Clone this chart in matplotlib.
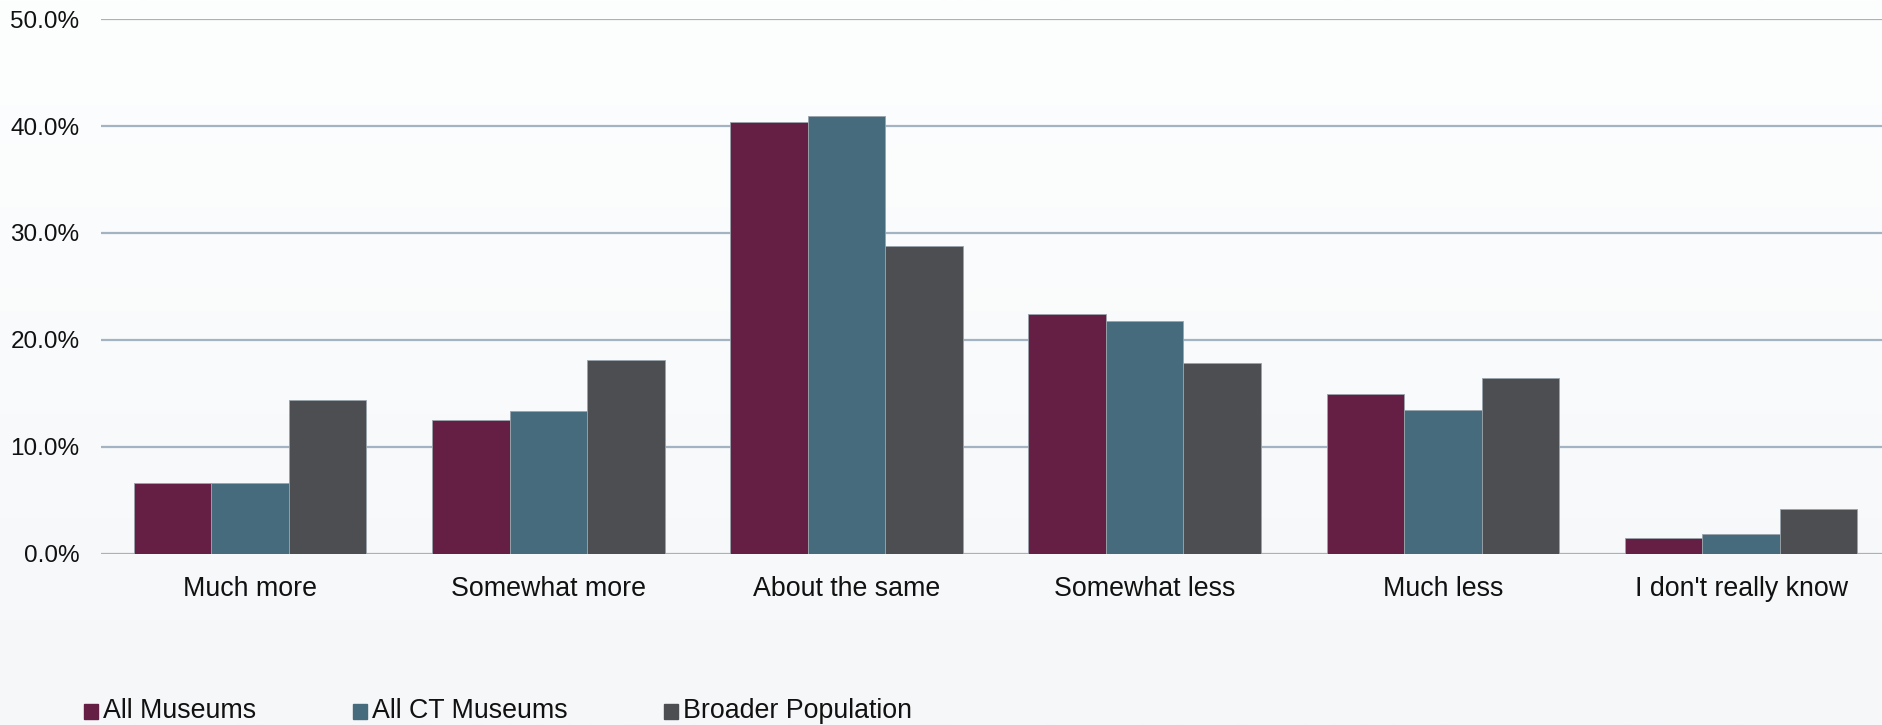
import numpy as np
import matplotlib
matplotlib.use("Agg")
import matplotlib.pyplot as plt
from matplotlib.colors import LinearSegmentedColormap
from matplotlib.ticker import FuncFormatter

categories = ["Much more", "Somewhat more", "About the same",
              "Somewhat less", "Much less", "I don't really know"]
all_museums = [6.6, 12.5, 40.4, 22.4, 14.9, 1.5]
all_ct_museums = [6.6, 13.3, 40.9, 21.8, 13.4, 1.8]
broader_population = [14.4, 18.1, 28.8, 17.8, 16.4, 4.2]
series_names = ["All Museums", "All CT Museums", "Broader Population"]
series_colors = ["#651F44", "#456B7C", "#4D4E52"]

plt.rcParams["font.family"] = ["Liberation Sans", "DejaVu Sans"]

W, H, DPI = 1883, 725, 100
fig = plt.figure(figsize=(W / DPI, H / DPI), dpi=DPI)

# soft vertical background gradient
bg = fig.add_axes([0, 0, 1, 1], zorder=-10)
grad = np.linspace(0, 1, 256).reshape(-1, 1)
cmap = LinearSegmentedColormap.from_list("bg", ["#FDFEFE", "#F6F7F9"])
bg.imshow(grad, aspect="auto", cmap=cmap, extent=[0, 1, 0, 1], origin="upper")
bg.set_axis_off()

left = 101 / W
bottom = 1 - 553.6 / H
top = 1 - 19.2 / H
ax = fig.add_axes([left, bottom, 1 - left, top - bottom])
ax.patch.set_alpha(0)

cat_px = 298.2
x = np.arange(len(categories))
bw = 0.26
for i, (vals, name, col) in enumerate(zip(
        [all_museums, all_ct_museums, broader_population], series_names, series_colors)):
    ax.bar(x + (i - 1) * bw, vals, width=bw, color=col, label=name,
           edgecolor="#9AA3AB", linewidth=0.6, zorder=3)

ax.set_xlim(-0.5, -0.5 + (W - 101) / cat_px)
ax.set_ylim(0, 50)
ax.set_yticks(np.arange(0, 51, 10))
ax.yaxis.set_major_formatter(FuncFormatter(lambda v, p: f"{v:.1f}%"))
ax.grid(axis="y", color="#A3B3C2", linewidth=1.6, zorder=0)
ax.set_axisbelow(True)
for s in ax.spines.values():
    s.set_visible(False)
ax.tick_params(axis="y", length=0, pad=15.5, labelsize=17.5, labelcolor="#111111")
ax.set_xticks(x)
ax.set_xticklabels(categories)
ax.tick_params(axis="x", length=0, pad=16, labelsize=19.3, labelcolor="#111111")

# legend along the bottom
leg_x = [84, 353, 664]
for hx, name, col in zip(leg_x, series_names, series_colors):
    fig.patches.append(plt.Rectangle((hx / W, 1 - 718.5 / H), 14.3 / W, 14.3 / H,
                                     transform=fig.transFigure, color=col))
    fig.text((hx + 19) / W, 1 - 711.5 / H, name, fontsize=19.3, color="#111111",
             va="center", ha="left")

fig.savefig("out.png", dpi=DPI)
